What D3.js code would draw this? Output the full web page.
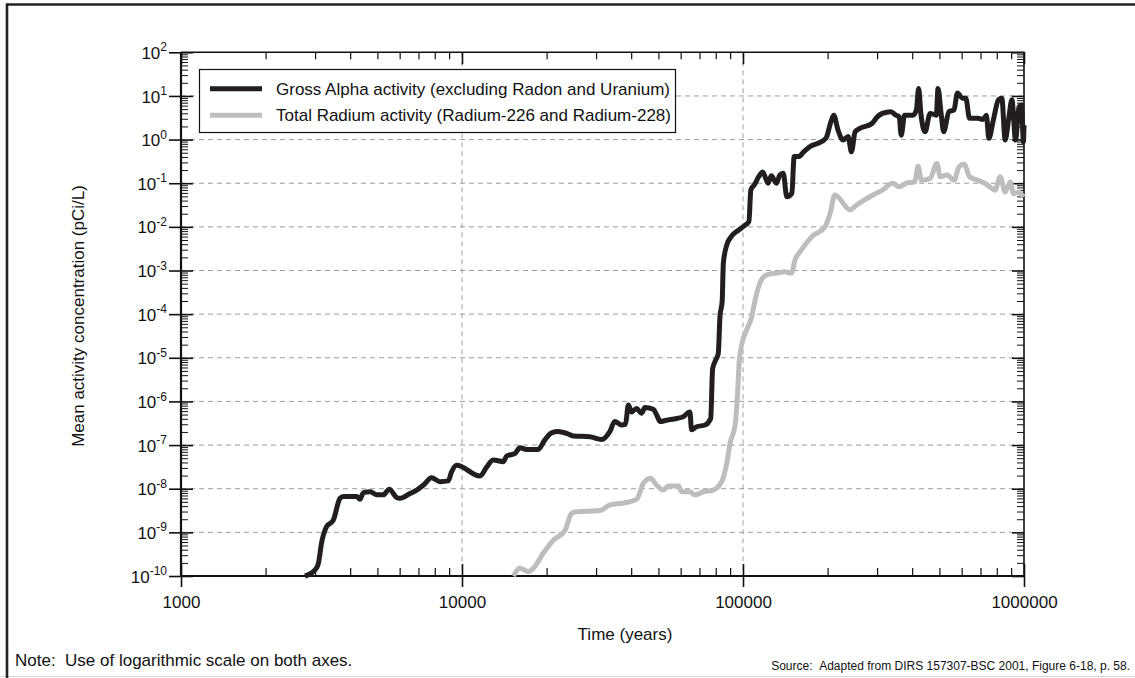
<!DOCTYPE html>
<html>
<head>
<meta charset="utf-8">
<script src="https://cdn.jsdelivr.net/npm/d3@7"></script>
<style>
  html, body { margin: 0; padding: 0; background: #fff; }
  svg { display: block; font-family: "Liberation Sans", Arial, Helvetica, sans-serif; }
</style>
</head>
<body>
<svg id="chart" width="1135" height="678"></svg>
<script>
// Gross alpha activity (excluding radon and uranium): time in years, mean concentration in pCi/L
const alphaYears = [
  2761, 3000, 3083, 3162, 3296, 3483, 3681, 3784, 4217, 4335, 4457, 4710, 4977, 5248, 5508,
  5848, 6012, 6531, 6902, 7278, 7798, 8356, 8933, 9183, 9572, 11590, 12250, 12910, 14030,
  14420, 15450, 16070, 16980, 18660, 19720, 20840, 21980, 23550, 24890, 28510, 31410, 33570,
  34990, 36980, 38190, 39080, 40180, 41780, 43550, 44770, 47970, 49320, 50700, 53460, 58080,
  61240, 64710, 65610, 68390, 73280, 76740, 77980, 79980, 81660, 82790, 84330, 85110, 87500,
  91410, 96610, 100900, 104950, 106660, 109650, 113760, 117490, 122740, 126180, 131520,
  135210, 139000, 143220, 149280, 152050, 157760, 164440, 174180, 184080, 197240, 205590,
  210380, 217770, 226990, 236590, 243220, 250610, 261220, 287740, 300610, 313330, 335740,
  349940, 359750, 365600, 375840, 402720, 414000, 421700, 429500, 444630, 463450, 487530,
  494310, 506990, 517600, 540750, 563640, 579420, 603950, 620870, 639740, 685490, 714450,
  734530, 749890, 778040, 810960, 833680, 857040, 881050, 905730, 933250, 959400, 979490,
  995400, 1000000
];
const alphaValues = [
  1.0e-10, 1.38e-10, 1.95e-10, 5.62e-10, 1.35e-9, 1.91e-9, 6.03e-9, 6.61e-9, 6.61e-9, 5.75e-9,
  8.13e-9, 8.51e-9, 7.24e-9, 7.24e-9, 9.77e-9, 6.31e-9, 6.03e-9, 7.76e-9, 9.33e-9, 1.20e-8,
  1.78e-8, 1.45e-8, 1.51e-8, 2.45e-8, 3.47e-8, 1.95e-8, 3.16e-8, 4.57e-8, 4.17e-8, 5.62e-8,
  6.46e-8, 8.71e-8, 7.94e-8, 7.94e-8, 1.32e-7, 1.91e-7, 2.04e-7, 1.86e-7, 1.62e-7, 1.55e-7,
  1.35e-7, 2.04e-7, 3.47e-7, 2.88e-7, 3.02e-7, 8.32e-7, 5.75e-7, 6.92e-7, 5.37e-7, 7.24e-7,
  6.61e-7, 4.90e-7, 3.47e-7, 3.72e-7, 4.07e-7, 4.47e-7, 5.75e-7, 2.24e-7, 2.63e-7, 2.88e-7,
  4.07e-7, 5.62e-6, 8.91e-6, 1.26e-5, 8.71e-5, 2.00e-4, 1.45e-3, 3.80e-3, 6.31e-3, 8.51e-3,
  1.05e-2, 1.32e-2, 7.08e-2, 9.12e-2, 0.141, 0.182, 0.100, 0.148, 0.100, 0.155, 0.170, 0.049,
  0.0589, 0.407, 0.407, 0.525, 0.708, 0.813, 1.072, 2.57, 3.63, 1.66, 0.977, 1.175, 0.525,
  1.514, 1.82, 2.344, 3.31, 3.98, 4.365, 3.63, 3.31, 1.259, 3.63, 3.63, 4.786, 14.79, 3.98,
  1.514, 3.98, 3.63, 14.79, 3.98, 1.514, 4.365, 4.786, 11.75, 8.91, 8.91, 3.09, 3.09, 2.884,
  3.63, 1.072, 2.818, 8.13, 8.91, 0.977, 2.818, 8.13, 0.977, 5.62, 6.166, 0.891, 2.138
];

// Total radium activity (radium-226 and radium-228)
const radiumYears = [
  15240, 16070, 17220, 17950, 19450, 21130, 23280, 24550, 25590, 30970, 33650, 37500, 41880,
  44160, 46880, 49320, 52000, 54200, 58880, 60530, 64710, 67450, 72280, 78340, 83950, 87500,
  89950, 93760, 95500, 97050, 98860, 103040, 107400, 110410, 114820, 121340, 131830, 140930,
  148940, 153110, 159590, 175390, 195880, 204170, 212320, 240440, 253510, 290400, 313330,
  340410, 359750, 381070, 408320, 419760, 431520, 463450, 489780, 503500, 533330, 563640,
  587490, 612350, 639740, 685490, 724440, 755090, 788830, 822430, 857040, 893300, 918330,
  959400, 986280, 1000000
];
const radiumValues = [
  1.0e-10, 1.51e-10, 1.26e-10, 1.51e-10, 3.31e-10, 6.61e-10, 1.12e-9, 2.75e-9, 2.95e-9,
  3.16e-9, 4.27e-9, 4.68e-9, 5.75e-9, 1.32e-8, 1.74e-8, 1.20e-8, 9.33e-9, 1.15e-8, 1.15e-8,
  8.51e-9, 8.51e-9, 7.24e-9, 8.51e-9, 9.33e-9, 1.45e-8, 3.80e-8, 1.10e-7, 2.88e-7, 1.29e-6,
  8.91e-6, 1.95e-5, 4.37e-5, 8.71e-5, 2.09e-4, 5.13e-4, 7.94e-4, 8.71e-4, 9.33e-4, 8.71e-4,
  1.74e-3, 2.69e-3, 5.89e-3, 1.0e-2, 2.04e-2, 5.37e-2, 2.45e-2, 3.16e-2, 5.37e-2, 6.92e-2,
  0.100, 0.0832, 0.100, 0.107, 0.245, 0.117, 0.129, 0.282, 0.141, 0.155, 0.117, 0.240, 0.275,
  0.141, 0.117, 0.100, 0.0832, 0.0692, 0.141, 0.0631, 0.107, 0.0575, 0.0631, 0.0537, 0.0575
];

const xTicks = [1000, 10000, 100000, 1000000];
const yExponents = [-10, -9, -8, -7, -6, -5, -4, -3, -2, -1, 0, 1, 2];
const seriesNames = [
  "Gross Alpha activity (excluding Radon and Uranium)",
  "Total Radium activity (Radium-226 and Radium-228)"
];
const seriesColors = ["#221e1f", "#bbbdbf"];

const W = 1135, H = 678;
const plot = { left: 181, right: 1024, top: 52.3, bottom: 576 };

const svg = d3.select("#chart");
svg.append("rect").attr("width", W).attr("height", H).attr("fill", "#fff");

// outer frame: dark on the top and left, faint along the bottom
svg.append("line").attr("x1", 0).attr("x2", W).attr("y1", H - 1.5).attr("y2", H - 1.5)
  .attr("stroke", "#d4d4d4").attr("stroke-width", 1);
svg.append("path").attr("d", `M7,${H} V4.5 H${W}`)
  .attr("fill", "none").attr("stroke", "#222").attr("stroke-width", 2.6);

const x = d3.scaleLog().domain([1e3, 1e6]).range([plot.left, plot.right]);
const y = d3.scaleLog().domain([1e-10, 1e2]).range([plot.bottom, plot.top]);

const yMajor = yExponents.map(e => Math.pow(10, e));
const yMinor = y.ticks(200).filter(v => !yMajor.some(m => Math.abs(v / m - 1) < 1e-6));
const xMinor = x.ticks(50).filter(v => !xTicks.includes(v));

// dashed grid at interior decades
const grid = svg.append("g").attr("stroke", "#9d9d9d").attr("stroke-width", 1)
  .attr("stroke-dasharray", "5,4");
grid.selectAll("line.h").data(yMajor.slice(1, -1)).join("line")
  .attr("x1", plot.left).attr("x2", plot.right)
  .attr("y1", d => y(d)).attr("y2", d => y(d));
grid.selectAll("line.v").data(xTicks.slice(1, -1)).join("line")
  .attr("y1", plot.top).attr("y2", plot.bottom)
  .attr("x1", d => x(d)).attr("x2", d => x(d));

function styleAxis(g, width) {
  g.select(".domain").remove();
  g.selectAll(".tick line").attr("stroke", "#111").attr("stroke-width", width);
}

const fontSize = 17;

// left axis: major ticks outward with labels, plus inward major and minor ticks
const gl = svg.append("g").attr("transform", `translate(${plot.left},0)`);
gl.call(d3.axisLeft(y).tickValues(yMajor).tickSize(12).tickPadding(2).tickFormat(""))
  .call(g => styleAxis(g, 1.6));
gl.selectAll(".tick text").each(function (d) {
  const t = d3.select(this)
    .attr("fill", "#111").attr("font-size", fontSize).attr("font-family", null)
    .attr("dy", "0.36em");
  t.append("tspan").text("10");
  t.append("tspan").attr("dy", -7.5).attr("font-size", 12).text(Math.round(Math.log10(d)));
});
svg.append("g").attr("transform", `translate(${plot.left},0)`)
  .call(d3.axisLeft(y).tickValues(yMajor).tickSize(-12).tickFormat(""))
  .call(g => styleAxis(g, 1.6));
svg.append("g").attr("transform", `translate(${plot.left},0)`)
  .call(d3.axisLeft(y).tickValues(yMinor).tickSize(-7).tickFormat(""))
  .call(g => styleAxis(g, 1));

// right axis: inward ticks only
svg.append("g").attr("transform", `translate(${plot.right},0)`)
  .call(d3.axisRight(y).tickValues(yMajor).tickSize(-12).tickFormat(""))
  .call(g => styleAxis(g, 1.6));
svg.append("g").attr("transform", `translate(${plot.right},0)`)
  .call(d3.axisRight(y).tickValues(yMinor).tickSize(-7).tickFormat(""))
  .call(g => styleAxis(g, 1));

// bottom axis: major ticks cross the axis, minor ticks point inward
const gb = svg.append("g").attr("transform", `translate(0,${plot.bottom})`);
gb.call(d3.axisBottom(x).tickValues(xTicks).tickSize(11).tickFormat(d3.format("d")))
  .call(g => styleAxis(g, 1.6));
gb.selectAll(".tick text")
  .attr("fill", "#111").attr("font-size", fontSize).attr("font-family", null)
  .attr("y", 32).attr("dy", 0);
svg.append("g").attr("transform", `translate(0,${plot.bottom})`)
  .call(d3.axisBottom(x).tickValues(xTicks).tickSize(-12).tickFormat(""))
  .call(g => styleAxis(g, 1.6));
svg.append("g").attr("transform", `translate(0,${plot.bottom})`)
  .call(d3.axisBottom(x).tickValues(xMinor).tickSize(-8).tickFormat(""))
  .call(g => styleAxis(g, 1.2));

// top axis: inward ticks
svg.append("g").attr("transform", `translate(0,${plot.top})`)
  .call(d3.axisTop(x).tickValues(xTicks).tickSize(-12).tickFormat(""))
  .call(g => styleAxis(g, 1.6));
svg.append("g").attr("transform", `translate(0,${plot.top})`)
  .call(d3.axisTop(x).tickValues(xMinor).tickSize(-7).tickFormat(""))
  .call(g => styleAxis(g, 1.2));

// plot frame
svg.append("path")
  .attr("d", `M${plot.left},${plot.top} H${plot.right} V${plot.bottom}`)
  .attr("fill", "none").attr("stroke", "#111").attr("stroke-width", 1.6);
svg.append("path")
  .attr("d", `M${plot.left},${plot.top} V${plot.bottom} H${plot.right}`)
  .attr("fill", "none").attr("stroke", "#111").attr("stroke-width", 2.2);

// data lines
const line = d3.line().curve(d3.curveMonotoneX).x(d => x(d[0])).y(d => y(d[1]));
const radium = radiumYears.map((t, i) => [t, radiumValues[i]]);
const alpha = alphaYears.map((t, i) => [t, alphaValues[i]]);
[[radium, seriesColors[1]], [alpha, seriesColors[0]]].forEach(([data, color]) => {
  svg.append("path").datum(data).attr("d", line)
    .attr("fill", "none").attr("stroke", color).attr("stroke-width", 5)
    .attr("stroke-linejoin", "round").attr("stroke-linecap", "butt");
});

// legend
const lg = svg.append("g");
lg.append("rect").attr("x", 199.5).attr("y", 69.5).attr("width", 476).attr("height", 63)
  .attr("fill", "#fff").attr("stroke", "#111").attr("stroke-width", 1.2);
seriesNames.forEach((name, i) => {
  const cy = 88.7 + i * 26.6;
  lg.append("line").attr("x1", 210).attr("x2", 262).attr("y1", cy).attr("y2", cy)
    .attr("stroke", seriesColors[i]).attr("stroke-width", 5);
  lg.append("text").attr("x", 276).attr("y", cy + 6)
    .attr("font-size", fontSize).attr("fill", "#111").text(name);
});

// axis titles and notes
svg.append("text")
  .attr("transform", `translate(84,316) rotate(-90)`)
  .attr("text-anchor", "middle").attr("font-size", fontSize).attr("fill", "#111")
  .text("Mean activity concentration (pCi/L)");
svg.append("text").attr("x", 625).attr("y", 640)
  .attr("text-anchor", "middle").attr("font-size", fontSize).attr("fill", "#111")
  .text("Time (years)");
svg.append("text").attr("x", 15).attr("y", 666)
  .attr("font-size", 17).attr("fill", "#111")
  .text("Note:\u00a0\u00a0Use of logarithmic scale on both axes.");
svg.append("text").attr("x", 1130).attr("y", 670)
  .attr("text-anchor", "end").attr("font-size", 12).attr("fill", "#111")
  .text("Source:\u00a0\u00a0Adapted from DIRS 157307-BSC 2001, Figure 6-18, p. 58.");
</script>
</body>
</html>
